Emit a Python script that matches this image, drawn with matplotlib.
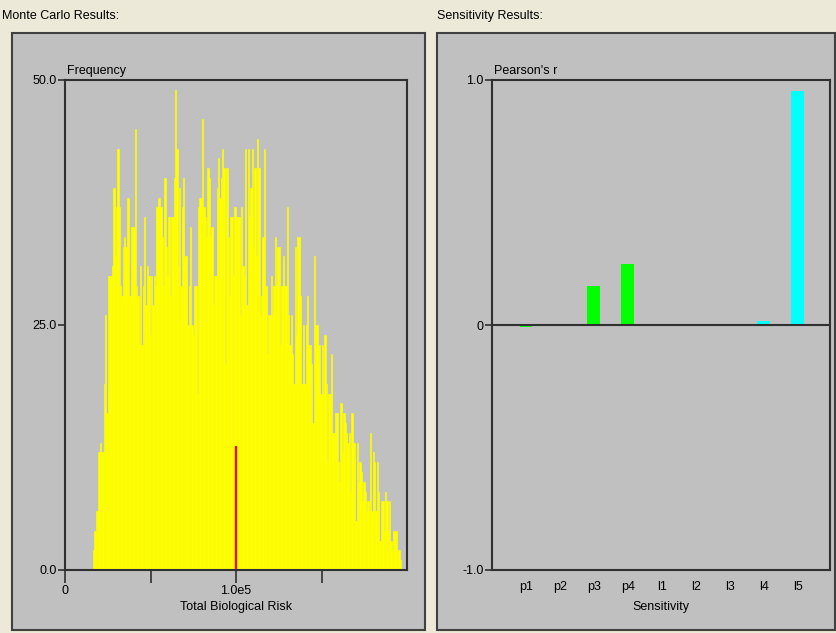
import matplotlib

matplotlib.use("Agg")
import matplotlib.pyplot as plt
import numpy as np
from matplotlib.patches import Rectangle

# ── data ─────────────────────────────────────────────────────────────────────
# histogram counts of Total Biological Risk
risk_counts = [
    2, 4, 6, 6, 12, 13, 12, 12, 19, 26, 16, 30, 30, 30, 31, 39, 32, 37, 43, 37,
    29, 28, 33, 34, 33, 38, 38, 28, 35, 35, 35, 45, 29, 28, 23, 31, 23, 29, 36, 27,
    31, 30, 24, 30, 27, 30, 29, 37, 38, 38, 37, 34, 29, 40,
    33, 30, 36, 28, 36, 36, 40, 49, 43, 31, 39, 29, 37, 40, 32, 32, 25, 29, 35, 25,
    24, 29, 29, 18, 37, 38, 38, 46, 37, 36, 34, 41, 40, 34, 35, 27, 30, 30, 39, 42,
    38, 40, 43, 41, 21, 41, 34, 28, 36, 36, 30, 37, 36, 36, 36, 26, 37,
    31, 30, 43, 27, 43, 36, 39, 43, 33, 41, 32, 44, 41, 26, 28, 34, 43, 29, 22, 26,
    26, 30, 26, 29, 34, 29, 33, 33, 23, 29, 32, 29, 29, 37, 26, 23, 26, 22, 19, 33,
    24, 34, 34, 28, 19, 25, 19, 25, 28, 23, 23, 21, 15, 32, 25, 25, 23, 23, 18,
    23, 18, 24, 19, 11, 18, 18, 22, 14, 14, 16, 16, 11, 9, 17, 12, 16, 15, 14, 13,
    14, 8, 16, 13, 13, 5, 13, 9, 11, 10, 7, 9, 8, 6, 7, 6, 14, 6, 12, 11, 6, 11, 8,
    3, 7, 7, 4, 8, 7, 4, 7, 3, 2, 4, 4, 4, 2, 2, 1,
]
risk_lo, risk_hi = 1.64e4, 1.965e5
risk_mean = 1.0e5
risk_mean_height = 12.7

sens_labels = ["p1", "p2", "p3", "p4", "l1", "l2", "l3", "l4", "l5"]
sens_values = [-0.01, 0.0, 0.16, 0.25, -0.005, -0.005, 0.0, 0.015, 0.955]
sens_colors = ["#00ff00"] * 4 + ["#00ffff"] * 5

# ── style ────────────────────────────────────────────────────────────────────
plt.rcParams["font.family"] = ["Liberation Sans", "DejaVu Sans"]
plt.rcParams["font.size"] = 9
W, H = 837, 633
win_bg = "#ece9d8"
panel_bg = "#c0c0c0"
dark = "#303030"

fig = plt.figure(figsize=(W / 100, H / 100), dpi=100, facecolor=win_bg)


def px_rect(x0, y0, x1, y1):
    """pixel box (top-left origin) -> figure fraction rect"""
    return [x0 / W, 1 - y1 / H, (x1 - x0) / W, (y1 - y0) / H]


# panel frames (behind the axes)
for x0, x1 in [(12, 425), (437, 835)]:
    r = px_rect(x0, 33, x1, 630)
    fig.patches.append(
        Rectangle((r[0], r[1]), r[2], r[3], transform=fig.transFigure,
                  facecolor=panel_bg, edgecolor="#404040", linewidth=1.5, zorder=-5)
    )

fig.text(2 / W, 1 - 16 / H, "Monte Carlo Results:", ha="left", va="center")
fig.text(437 / W, 1 - 16 / H, "Sensitivity Results:", ha="left", va="center")


def style_axes(ax):
    ax.set_facecolor(panel_bg)
    for s in ax.spines.values():
        s.set_color(dark)
        s.set_linewidth(1.5)
    ax.tick_params(colors=dark, labelcolor="black", width=1.2)


# ── 1. Monte Carlo histogram ────────────────────────────────────────────────
ax1 = fig.add_axes(px_rect(65, 80, 407, 570))
style_axes(ax1)
edges = np.linspace(risk_lo, risk_hi, len(risk_counts) + 1)
ax1.bar(edges[:-1], risk_counts, width=np.diff(edges), align="edge",
        color="#ffff00", edgecolor="#ffff00", linewidth=0.45)
ax1.vlines(risk_mean, 0, risk_mean_height, color="#ff0000", linewidth=1.6)
ax1.set_xlim(0, 2.0e5)
ax1.set_ylim(0, 50)
ax1.set_yticks([0, 25, 50])
ax1.set_yticklabels(["0.0", "25.0", "50.0"])
ax1.set_xticks([0, 5e4, 1e5, 1.5e5])
ax1.set_xticklabels(["0", "", "1.0e5", ""])
ax1.tick_params(axis="y", length=5, pad=1)
ax1.tick_params(axis="x", length=9, pad=2)
ax1.set_xlabel("Total Biological Risk", labelpad=3)
ax1.text(0.005, 1.006, "Frequency", transform=ax1.transAxes, ha="left", va="bottom")

# ── 2. Sensitivity bars ─────────────────────────────────────────────────────
ax2 = fig.add_axes(px_rect(492, 80, 830, 570))
style_axes(ax2)
xpos = np.arange(1, len(sens_labels) + 1)
ax2.bar(xpos, sens_values, width=0.38, color=sens_colors, linewidth=0)
ax2.axhline(0, color=dark, linewidth=1.5)
ax2.set_xlim(0, 9.95)
ax2.set_ylim(-1, 1)
ax2.set_yticks([-1, 0, 1])
ax2.set_yticklabels(["-1.0", "0", "1.0"])
ax2.set_xticks(xpos)
ax2.set_xticklabels(sens_labels)
ax2.tick_params(axis="y", length=5, pad=1)
ax2.tick_params(axis="x", length=0, pad=8)
ax2.set_xlabel("Sensitivity", labelpad=6)
ax2.text(0.005, 1.006, "Pearson's r", transform=ax2.transAxes, ha="left", va="bottom")

fig.savefig("out.png", dpi=100, facecolor=win_bg)
